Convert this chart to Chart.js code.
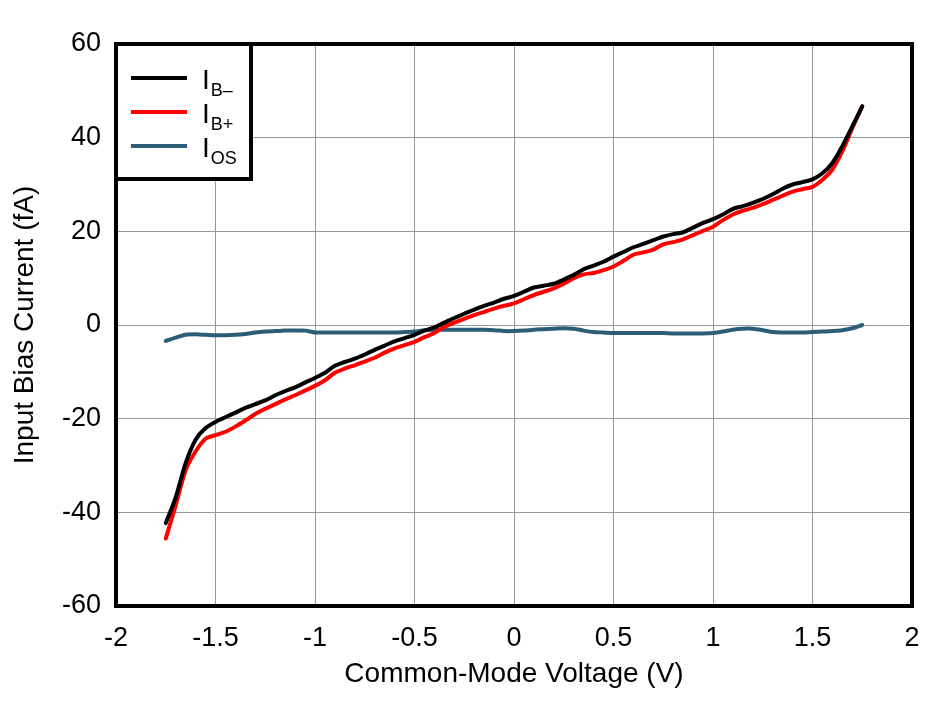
<!DOCTYPE html>
<html>
<head>
<meta charset="utf-8">
<script src="https://cdn.jsdelivr.net/npm/chart.js@4.4.1/dist/chart.umd.min.js"></script>
<style>
  html, body { margin: 0; padding: 0; background: #fff; }
  #grafico { display: block; }
</style>
</head>
<body>
<canvas id="grafico" width="942" height="701"></canvas>
<script>
// Tensión de modo común (V)
const voltajes = [
  -1.75, -1.70, -1.65, -1.60, -1.55, -1.50, -1.45, -1.40, -1.35, -1.30,
  -1.25, -1.20, -1.15, -1.10, -1.05, -1.00, -0.95, -0.90, -0.85, -0.80,
  -0.75, -0.70, -0.65, -0.60, -0.55, -0.50, -0.45, -0.40, -0.35, -0.30,
  -0.25, -0.20, -0.15, -0.10, -0.05, 0.00, 0.05, 0.10, 0.15, 0.20,
  0.25, 0.30, 0.35, 0.40, 0.45, 0.50, 0.55, 0.60, 0.65, 0.70,
  0.75, 0.80, 0.85, 0.90, 0.95, 1.00, 1.05, 1.10, 1.15, 1.20,
  1.25, 1.30, 1.35, 1.40, 1.45, 1.50, 1.55, 1.60, 1.65, 1.70, 1.75
];

// IB- (fA)
const corrienteBMenos = [
  -42.3, -36.8, -29.5, -24.5, -22.0, -20.7, -19.7, -18.7, -17.7, -16.9,
  -16.1, -15.0, -14.1, -13.3, -12.3, -11.3, -10.2, -8.7, -7.9, -7.2,
  -6.3, -5.3, -4.4, -3.5, -2.8, -2.1, -1.2, -0.5, 0.5, 1.5,
  2.4, 3.3, 4.1, 4.8, 5.6, 6.2, 7.1, 8.0, 8.4, 8.8,
  9.7, 10.7, 11.9, 12.7, 13.5, 14.6, 15.6, 16.6, 17.3, 18.1,
  18.9, 19.4, 19.8, 20.8, 21.8, 22.6, 23.6, 24.8, 25.4, 26.1,
  26.9, 27.9, 29.1, 30.0, 30.5, 31.1, 32.4, 34.6, 38.2, 42.4, 46.7
];

// IB+ (fA)
const corrienteBMas = [
  -45.6, -38.5, -31.0, -27.0, -24.3, -23.5, -22.8, -21.7, -20.4, -19.0,
  -17.9, -16.9, -15.9, -15.0, -14.0, -13.0, -11.8, -10.2, -9.3, -8.6,
  -7.8, -7.0, -5.9, -5.0, -4.3, -3.6, -2.6, -1.7, -0.4, 0.5,
  1.3, 2.1, 2.8, 3.5, 4.1, 4.6, 5.5, 6.4, 7.1, 7.8,
  8.8, 10.0, 10.8, 11.1, 11.7, 12.5, 13.7, 15.0, 15.5, 16.1,
  17.2, 17.7, 18.3, 19.2, 20.1, 21.0, 22.4, 23.6, 24.4, 25.0,
  25.8, 26.7, 27.6, 28.5, 29.0, 29.5, 31.0, 33.2, 37.1, 42.0, 46.7
];

// IOS (fA)
const corrienteOffset = [
  -3.4, -2.7, -2.1, -2.0, -2.1, -2.2, -2.2, -2.1, -1.9, -1.6,
  -1.4, -1.3, -1.2, -1.2, -1.2, -1.6, -1.6, -1.6, -1.6, -1.6,
  -1.6, -1.6, -1.6, -1.6, -1.5, -1.4, -1.1, -1.0, -1.0, -1.0,
  -1.0, -1.0, -1.0, -1.1, -1.3, -1.3, -1.2, -1.0, -0.9, -0.8,
  -0.7, -0.8, -1.2, -1.5, -1.6, -1.7, -1.7, -1.7, -1.7, -1.7,
  -1.7, -1.8, -1.8, -1.8, -1.8, -1.7, -1.4, -1.0, -0.8, -0.8,
  -1.1, -1.5, -1.6, -1.6, -1.6, -1.5, -1.4, -1.3, -1.1, -0.7, 0.0
];

// Leyenda: texto principal y subíndice
const etiquetas = ['I', 'I', 'I'];
const subindices = ['B\u2013', 'B+', 'OS'];
const colores = ['#000000', '#ff0000', '#2b5e76'];

const fuente = '"Liberation Sans", Arial, sans-serif';

function puntos(valores) {
  return voltajes.map((v, i) => ({ x: v, y: valores[i] }));
}

// Plugin para el marco y la leyenda con subíndices
const marcoYLeyenda = {
  id: 'marcoYLeyenda',
  afterDraw(chart) {
    const ctx = chart.ctx;
    const a = chart.chartArea;
    ctx.save();

    // Leyenda
    const ancho = 135, alto = 135;
    ctx.fillStyle = '#fff';
    ctx.fillRect(a.left, a.top, ancho, alto);
    ctx.lineWidth = 4;
    ctx.strokeStyle = '#000';
    ctx.strokeRect(a.left, a.top, ancho, alto);

    chart.data.datasets.forEach((ds, i) => {
      const y = a.top + 34 + i * 34;
      ctx.beginPath();
      ctx.strokeStyle = ds.borderColor;
      ctx.lineWidth = 4;
      ctx.moveTo(a.left + 15, y);
      ctx.lineTo(a.left + 71, y);
      ctx.stroke();

      ctx.fillStyle = '#000';
      ctx.textBaseline = 'alphabetic';
      ctx.textAlign = 'left';
      ctx.font = '28px ' + fuente;
      ctx.fillText(etiquetas[i], a.left + 86, y + 11);
      const w = ctx.measureText(etiquetas[i]).width;
      ctx.font = '18px ' + fuente;
      ctx.fillText(subindices[i], a.left + 86 + w + 1, y + 18);
    });

    // Marco del área del gráfico
    ctx.lineWidth = 4;
    ctx.strokeStyle = '#000';
    ctx.strokeRect(a.left, a.top, a.right - a.left, a.bottom - a.top);
    ctx.restore();
  }
};

new Chart(document.getElementById('grafico').getContext('2d'), {
  type: 'line',
  data: {
    datasets: [
      { label: 'IB-', data: puntos(corrienteBMenos), borderColor: colores[0], borderWidth: 4 },
      { label: 'IB+', data: puntos(corrienteBMas), borderColor: colores[1], borderWidth: 4 },
      { label: 'IOS', data: puntos(corrienteOffset), borderColor: colores[2], borderWidth: 4 }
    ]
  },
  options: {
    responsive: false,
    animation: false,
    devicePixelRatio: 1,
    elements: {
      point: { radius: 0 },
      line: { tension: 0.3, borderCapStyle: 'round', borderJoinStyle: 'round' }
    },
    layout: { padding: { top: 44, right: 30, left: 0, bottom: 0 } },
    plugins: {
      legend: { display: false },
      tooltip: { enabled: false }
    },
    scales: {
      x: {
        type: 'linear',
        min: -2,
        max: 2,
        ticks: {
          stepSize: 0.5,
          color: '#000',
          padding: 16,
          font: { family: fuente, size: 27 },
          callback: (valor) => String(Math.round(valor * 10) / 10)
        },
        grid: { color: '#999', lineWidth: 1, drawTicks: false },
        border: { display: false },
        title: {
          display: true,
          text: 'Common-Mode Voltage (V)',
          color: '#000',
          font: { family: fuente, size: 28 },
          padding: { top: 0, bottom: 10 }
        },
        afterFit(scale) { scale.height = 95; }
      },
      y: {
        min: -60,
        max: 60,
        ticks: { stepSize: 20, color: '#000', padding: 15, font: { family: fuente, size: 27 } },
        grid: { color: '#999', lineWidth: 1, drawTicks: false },
        border: { display: false },
        title: {
          display: true,
          text: 'Input Bias Current (fA)',
          color: '#000',
          font: { family: fuente, size: 28 },
          padding: { top: 8, bottom: 0 }
        },
        afterFit(scale) { scale.width = 116; }
      }
    }
  },
  plugins: [marcoYLeyenda]
});
</script>
</body>
</html>
